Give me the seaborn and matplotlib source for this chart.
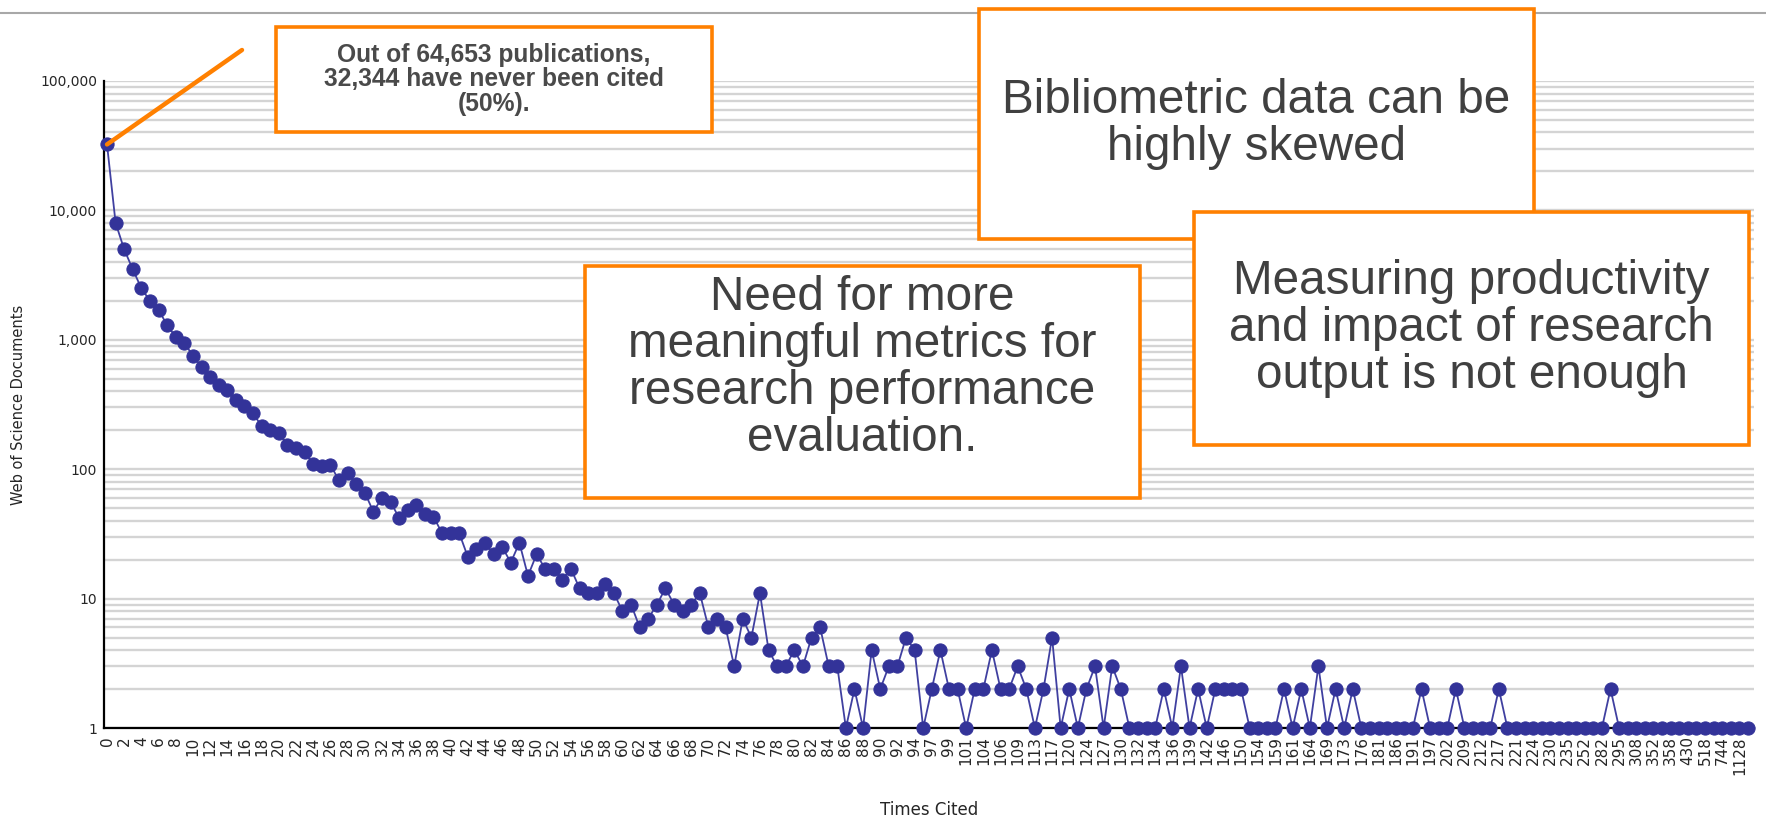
# Citation distribution chart (log scale) with slide call-out boxes
import numpy as np
import pandas as pd
import matplotlib.pyplot as plt
import seaborn as sns
from matplotlib.patches import Rectangle
from matplotlib.lines import Line2D
from matplotlib.ticker import FuncFormatter, LogLocator, NullFormatter

# -----------------------------------------
# Data
# -----------------------------------------
times_cited = list(range(95)) + [
    96, 97, 98, 99, 100, 101, 103, 104, 105, 106, 107, 109, 111, 113, 115, 117,
    118, 120, 122, 124, 125, 127, 128, 130, 131, 132, 133, 134, 135, 136, 137,
    139, 140, 142, 144, 146, 148, 150, 152, 154, 156, 159, 160, 161, 163, 164,
    166, 169, 171, 173, 175, 176, 178, 181, 183, 186, 188, 191, 194, 197, 199,
    202, 205, 209, 211, 212, 215, 217, 219, 221, 223, 224, 227, 230, 233, 235,
    244, 252, 266, 282, 287, 295, 301, 308, 330, 352, 355, 358, 381, 430, 472,
    518, 613, 744, 850, 1128, 1452,
]

docs = [
    32344, 8000, 5000, 3500, 2500, 2000, 1700, 1300, 1050, 950,
    750, 620, 520, 450, 410, 340, 310, 270, 215, 200,
    190, 155, 145, 135, 110, 105, 108, 82, 93, 77,
    66, 47, 60, 56, 42, 48, 53, 45, 43, 32,
    32, 32, 21, 24, 27, 22, 25, 19, 27, 15,
    22, 17, 17, 14, 17, 12, 11, 11, 13, 11,
    8, 9, 6, 7, 9, 12, 9, 8, 9, 11,
    6, 7, 6, 3, 7, 5, 11, 4, 3, 3,
    4, 3, 5, 6, 3, 3, 1, 2, 1, 4,
    2, 3, 3, 5, 4, 1, 2, 4, 2, 2,
    1, 2, 2, 4, 2, 2, 3, 2, 1, 2,
    5, 1, 2, 1, 2, 3, 1, 3, 2, 1,
    1, 1, 1, 2, 1, 3, 1, 2, 1, 2,
    2, 2, 2, 1, 1, 1, 1, 2, 1, 2,
    1, 3, 1, 2, 1, 2, 1, 1, 1, 1,
    1, 1, 1, 2, 1, 1, 1, 2, 1, 1,
    1, 1, 2, 1, 1, 1, 1, 1, 1, 1,
    1, 1, 1, 1, 1, 2, 1, 1, 1, 1,
    1, 1, 1, 1, 1, 1, 1, 1, 1, 1,
    1, 1,
]

y_ticks = [1, 10, 100, 1000, 10000, 100000]

note_small = "Out of 64,653 publications,\n32,344 have never been cited\n(50%)."
note_skew = "Bibliometric data can be\nhighly skewed"
note_metrics = "Need for more\nmeaningful metrics for\nresearch performance\nevaluation."
note_enough = "Measuring productivity\nand impact of research\noutput is not enough"

df = pd.DataFrame({"pos": np.arange(len(docs)), "cited": times_cited, "docs": docs})

# -----------------------------------------
# Figure
# -----------------------------------------
W, H = 1766, 821
sns.set_theme(style="white")
plt.rcParams["font.family"] = ["DejaVu Sans"]

fig = plt.figure(figsize=(W / 100, H / 100), dpi=100)
ax = fig.add_axes([104 / W, 1 - 728 / H, (1754 - 104) / W, (728 - 81) / H])

sns.lineplot(data=df, x="pos", y="docs", ax=ax, color="#4040a0", linewidth=1.3,
             marker="o", markersize=9.5, markerfacecolor="#333399",
             markeredgecolor="#333399", clip_on=False, zorder=3)

ax.set_yscale("log")
ax.set_ylim(1, 100000)
ax.set_xlim(-0.35, len(docs) - 1 + 0.7)

ax.yaxis.set_major_locator(LogLocator(base=10))
ax.yaxis.set_minor_locator(LogLocator(base=10, subs=np.arange(2, 10)))
ax.yaxis.set_minor_formatter(NullFormatter())
ax.set_yticks(y_ticks)
ax.yaxis.set_major_formatter(FuncFormatter(lambda v, p: f"{int(v):,}"))
ax.grid(axis="y", which="both", color="#d4d4d4", linewidth=1.7)
ax.grid(axis="x", visible=False)

even = df["pos"][::2]
ax.set_xticks(even)
ax.set_xticklabels([str(c) for c in df["cited"][::2]], rotation=90)
ax.tick_params(axis="x", length=0, pad=6, labelsize=11)
ax.tick_params(axis="y", which="both", length=0, pad=5, labelsize=10)

for side in ["top", "right"]:
    ax.spines[side].set_visible(False)
for side in ["left", "bottom"]:
    ax.spines[side].set_color("black")
    ax.spines[side].set_linewidth(1.6)

ax.set_xlabel("Times Cited", fontsize=12)
ax.set_ylabel("Web of Science Documents", fontsize=10.5)
ax.xaxis.set_label_coords(0.5, -0.127)
ax.yaxis.set_label_coords(-0.047, 0.5)
ax.xaxis.label.set_va("center")

# -----------------------------------------
# Slide decorations
# -----------------------------------------
fig.add_artist(Line2D([0, 1], [1 - 13 / H] * 2, transform=fig.transFigure,
                      color="#a8a8a8", linewidth=1.5, zorder=1))

orange = "#ff8000"
text_grey = "#404040"


def callout(x0, y0, x1, y1, text, z, size, bold=False, ty=None, color=text_grey):
    rect = Rectangle((x0 / W, 1 - y1 / H), (x1 - x0) / W, (y1 - y0) / H,
                     transform=fig.transFigure, facecolor="white",
                     edgecolor=orange, linewidth=2.6, zorder=z)
    fig.add_artist(rect)
    cy = (y0 + y1) / 2 if ty is None else ty
    fig.text((x0 + x1) / 2 / W, 1 - cy / H, text, ha="center", va="center",
             fontsize=size, color=color, family="Liberation Sans",
             fontweight="bold" if bold else "normal", linespacing=1.05,
             zorder=z + 0.5)


ax.annotate("", xy=(0, docs[0]), xycoords="data",
            xytext=(242 / W, 1 - 50 / H), textcoords="figure fraction",
            arrowprops=dict(arrowstyle="-", color=orange, lw=3.2,
                            shrinkA=0, shrinkB=0))

callout(276, 27, 712, 132, note_small, 5, 17.7, bold=True, color="#4a4a4a")
callout(979, 9, 1534, 239, note_skew, 6, 34.3)
callout(1194, 212, 1749, 445, note_enough, 8, 34.3)
callout(585, 266, 1140, 498, note_metrics, 10, 34.3, ty=368)

fig.savefig("out.png", dpi=100)
